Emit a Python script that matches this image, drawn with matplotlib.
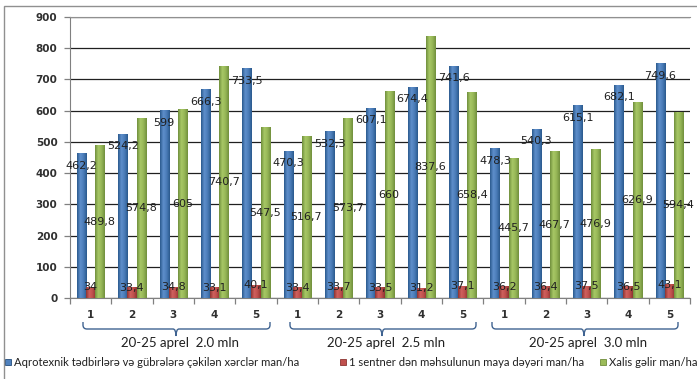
import numpy as np
import matplotlib.pyplot as plt
from matplotlib.patches import Rectangle, PathPatch
from matplotlib.path import Path
from matplotlib.colors import LinearSegmentedColormap

# Data for the three sowing-rate groups (5 variants each)
variants = ['1', '2', '3', '4', '5'] * 3
groups = ['20-25 aprel  2.0 mln', '20-25 aprel  2.5 mln', '20-25 aprel  3.0 mln']
xercler = [462.2, 524.2, 599, 666.3, 733.5,
           470.3, 532.3, 607.1, 674.4, 741.6,
           478.3, 540.3, 615.1, 682.1, 749.6]
maya_deyeri = [34, 33.4, 34.8, 33.1, 40.1,
               33.4, 33.7, 33.5, 31.2, 37.1,
               36.2, 36.4, 37.5, 36.5, 43.1]
xalis_gelir = [489.8, 574.8, 605, 740.7, 547.5,
               516.7, 573.7, 660, 837.6, 658.4,
               445.7, 467.7, 476.9, 626.9, 594.4]
legend_labels = ['Aqrotexnik tədbirlərə və gübrələrə çəkilən xərclər man/ha',
                 '1 sentner dən məhsulunun maya dəyəri man/ha',
                 'Xalis gəlir man/ha']

colors = ['#4F81BD', '#C0504D', '#9BBB59']
edges = ['#244D7C', '#8C3431', '#6F8C3A']
shades = [['#2B5A8E', '#5F8FCB', '#4A7CB8', '#2B5A8E'],
          ['#8E3532', '#D0615E', '#BE4F4C', '#8E3532'],
          ['#71903E', '#A8C866', '#96B656', '#71903E']]
txt_font = ['Lato', 'DejaVu Sans']


def fmt(v):
    s = ('%g' % v)
    return s.replace('.', ',')


fig = plt.figure(figsize=(6.97, 3.79), dpi=100)
ax = fig.add_axes([70/697, 1-298/379, 620/697, 281/379])

x = np.arange(len(variants))
w = 0.22
series = [xercler, maya_deyeri, xalis_gelir]
offsets = [-w, 0, w]
grad = np.linspace(0, 1, 32).reshape(1, -1)
for vals, off, c, e, sh in zip(series, offsets, colors, edges, shades):
    bars = ax.bar(x + off, vals, w, color=c, edgecolor=e, linewidth=0.7, zorder=3)
    cmap = LinearSegmentedColormap.from_list('shade', sh)
    # horizontal shading across every bar
    for r in bars:
        x0 = r.get_x()
        ax.imshow(grad, cmap=cmap, extent=(x0, x0 + r.get_width(), 0, r.get_height()),
                  aspect='auto', zorder=3.5, interpolation='bilinear')

# value labels
for xi, v in zip(x - w, xercler):
    ax.annotate(fmt(v), (xi, v), xytext=(0, -5), textcoords='offset points',
                ha='center', va='top', fontsize=8, color='#202020', zorder=5)
for xi, v in zip(x, maya_deyeri):
    ax.annotate(fmt(v), (xi, v), ha='center', va='center', fontsize=8,
                color='#202020', zorder=5)
for xi, v in zip(x + w, xalis_gelir):
    ax.annotate(fmt(v), (xi, v / 2), ha='center', va='center',
                fontsize=8, color='#202020', zorder=5)

ax.set_xlim(-0.5, len(variants) - 0.5)
ax.set_ylim(0, 900)
ax.set_yticks(range(0, 901, 100))
ax.set_yticklabels([str(t) for t in range(0, 901, 100)], fontsize=7.5, fontweight='bold',
                   color='#303030')
ax.yaxis.grid(True, color='#202020', linewidth=0.9, zorder=0)
ax.set_axisbelow(True)

ax.set_xticks(np.arange(-0.5, len(variants), 1))
ax.set_xticklabels([])
ax.tick_params(axis='x', length=4, color='#808080', width=0.9)
ax.tick_params(axis='y', length=4, color='#808080', width=0.9, pad=5)
for t, xi in zip(variants, x):
    ax.text(xi, -55, t, ha='center', va='center', fontsize=7.5, fontweight='bold',
            color='#303030')

ax.spines['right'].set_visible(False)
ax.spines['top'].set_color('#909090')
ax.spines['left'].set_color('#808080')
ax.spines['bottom'].set_color('#808080')

# braces under each group, in figure pixel coordinates
braces = [(83, 270, 176), (290, 476, 382), (492, 678, 584)]
H = 379
for (a, b, tip), g in zip(braces, groups):
    y0, y1, y2 = H - 322, H - 329, H - 336
    r = 4
    verts = [(a, y0), (a, y1 + r), (a, y1), (a + r, y1),
             (tip - 3, y1), (tip, y1), (tip, y2),
             (tip, y1), (tip + 3, y1),
             (b - r, y1), (b, y1), (b, y1 + r), (b, y0)]
    codes = [Path.MOVETO, Path.LINETO, Path.CURVE3, Path.CURVE3,
             Path.LINETO, Path.CURVE3, Path.CURVE3,
             Path.CURVE3, Path.CURVE3,
             Path.LINETO, Path.CURVE3, Path.CURVE3, Path.LINETO]
    verts = [(vx / 697, vy / H) for vx, vy in verts]
    fig.add_artist(PathPatch(Path(verts, codes), fill=False, edgecolor='#3F6391',
                             linewidth=1.0, transform=fig.transFigure))
    fig.text((tip + 4) / 697, 1 - 343 / H, g, ha='center', va='center', fontsize=9.5,
             family=txt_font, color='#202020')

# legend drawn along the bottom
leg_x = [5, 340, 600]
for lx, lab, c, e in zip(leg_x, legend_labels, colors, edges):
    fig.add_artist(Rectangle((lx / 697, 1 - 365 / H), 6 / 697, 6 / H, facecolor=c,
                             edgecolor=e, linewidth=0.6, transform=fig.transFigure))
    fig.text((lx + 9) / 697, 1 - 362 / H, lab, ha='left', va='center', fontsize=8.1,
             family=txt_font, color='#202020')

# outer frame
fig.add_artist(Rectangle((4 / 697, -0.1), 1.2, 1 - 6 / H + 0.1, fill=False,
                         edgecolor='#909090', linewidth=1.0, transform=fig.transFigure))

fig.savefig('out.png', dpi=100)
